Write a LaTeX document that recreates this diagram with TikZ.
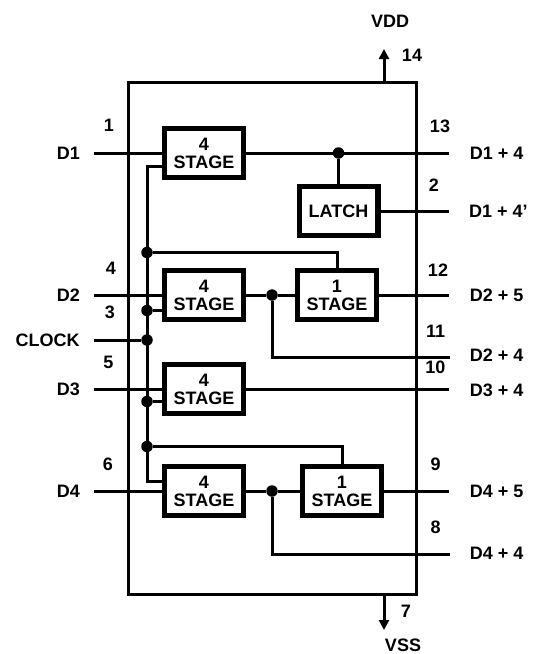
\documentclass[tikz,border=0pt]{standalone}
\usepackage{fontspec}
\setmainfont{Liberation Sans}
\usetikzlibrary{arrows.meta}

\tikzset{
  wire/.style={line width=3pt},
  stagebox/.style={draw,line width=5.2pt,fill=white,minimum width=78.8pt,minimum height=48.8pt,
    inner sep=0pt,align=center,font=\fontsize{18}{18}\selectfont\bfseries},
  dot/.style={circle,fill=black,inner sep=0pt,minimum size=11.5pt},
  lbl/.style={inner sep=0pt,font=\fontsize{18}{18}\selectfont\bfseries},
  pinarrow/.style={wire,-{Triangle[width=10pt,length=10pt]}}
}

\begin{document}
\begin{tikzpicture}[x=1pt,y=-1pt]
  \useasboundingbox (0,0) rectangle (533,654);

  \node[draw,line width=3pt,minimum width=288pt,minimum height=512pt,inner sep=0pt] (chip) at (272,338) {};

  % blocks
  \begin{scope}[every node/.style={stagebox}]
    \node (stageA) at (204,153)   {4\\STAGE};
    \node (stageB) at (204,295)   {4\\STAGE};
    \node (stageC) at (204,389)   {4\\STAGE};
    \node (stageD) at (204,491)   {4\\STAGE};
    \node (stageE) at (337,295)   {1\\STAGE};
    \node (stageF) at (342,491)   {1\\STAGE};
    \node (latch)  at (338.5,211) {LATCH};
  \end{scope}

  % junctions
  \begin{scope}[every node/.style={dot}]
    \node (dotQ)  at (338.5,153) {};
    \node (dotE)  at (147,252.5) {};
    \node (dotB)  at (147,310.5) {};
    \node (dotCk) at (147,340) {};
    \node (dotC)  at (147,401.5) {};
    \node (dotF)  at (147,446.5) {};
    \node (dotR)  at (272,295) {};
    \node (dotS)  at (272,491) {};
  \end{scope}

  % free ends
  \coordinate (inA)   at (93.5,153);
  \coordinate (inB)   at (93.5,295);
  \coordinate (inCk)  at (93.5,340);
  \coordinate (inC)   at (93.5,389);
  \coordinate (inD)   at (93.5,491);
  \coordinate (outA)  at (449,153);
  \coordinate (outL)  at (449,211);
  \coordinate (outE)  at (449,295);
  \coordinate (outR)  at (450,357);
  \coordinate (outC)  at (449,389);
  \coordinate (outF)  at (449,491);
  \coordinate (outS)  at (450,554);
  \coordinate (busTop) at (147,166);
  \coordinate (busEnd) at (147,481);
  \coordinate (vdd)   at (384,49);
  \coordinate (vss)   at (384,630);

  \begin{scope}[every edge/.style={draw,wire}]
    \path (inA)   edge (stageA);
    \path (inB)   edge (stageB);
    \path (inCk)  edge (dotCk);
    \path (inC)   edge (stageC);
    \path (inD)   edge (stageD);
    \path (stageA) edge (outA);
    \path (dotQ)  edge (latch);
    \path (latch) edge (outL);
    \path (stageB) edge (dotR);
    \path (dotR)  edge (stageE);
    \path (stageE) edge (outE);
    \path (stageC) edge (outC);
    \path (stageD) edge (dotS);
    \path (dotS)  edge (stageF);
    \path (stageF) edge (outF);
    \path (dotB)  edge (dotB -| stageB.west);
    \path (dotC)  edge (dotC -| stageC.west);
  \end{scope}

  \draw[wire] (busTop -| stageA.west) -- (busTop) -- (busEnd) -- (busEnd -| stageD.west);
  \draw[wire] (dotE) -| (stageE.north);
  \draw[wire] (dotF) -| (stageF.north);
  \draw[wire] (dotR) |- (outR);
  \draw[wire] (dotS) |- (outS);

  \draw[pinarrow] (vdd |- chip.north) -- (vdd);
  \draw[pinarrow] (vss |- chip.south) -- (vss);

  % labels
  \begin{scope}[every node/.style={lbl}]
    \node (lblVdd)   at (390,21)    {VDD};
    \node (lblVss)   at (403,645)   {VSS};
    \node (lblClock) at (47.7,340)  {CLOCK};
    \node (lblDa)    at (68.5,153)  {D1};
    \node (lblDb)    at (68.5,295)  {D2};
    \node (lblDc)    at (68.5,389)  {D3};
    \node (lblDd)    at (68.5,491)  {D4};
    \node (lblOa)    at (496.7,153) {D1 + 4};
    \node (lblOl)    at (498.5,211) {D1 + 4’};
    \node (lblOe)    at (496.7,295) {D2 + 5};
    \node (lblOr)    at (496.7,355) {D2 + 4};
    \node (lblOc)    at (496.7,390) {D3 + 4};
    \node (lblOf)    at (496.7,491) {D4 + 5};
    \node (lblOs)    at (496.7,553) {D4 + 4};
    \node (pinA)  at (109,125.7) {1};
    \node (pinB)  at (434,185)   {2};
    \node (pinC)  at (110,312.7) {3};
    \node (pinD)  at (111,268)   {4};
    \node (pinE)  at (108.3,362.5) {5};
    \node (pinF)  at (108,464)   {6};
    \node (pinG)  at (406,611.7) {7};
    \node (pinH)  at (435.7,527.7) {8};
    \node (pinI)  at (435.7,464) {9};
    \node (pinJ)  at (435.3,367.7) {10};
    \node (pinK)  at (435.7,331.7) {11};
    \node (pinL)  at (438,270)   {12};
    \node (pinM)  at (440,126)   {13};
    \node (pinN)  at (412,55)    {14};
  \end{scope}
\end{tikzpicture}
\end{document}
